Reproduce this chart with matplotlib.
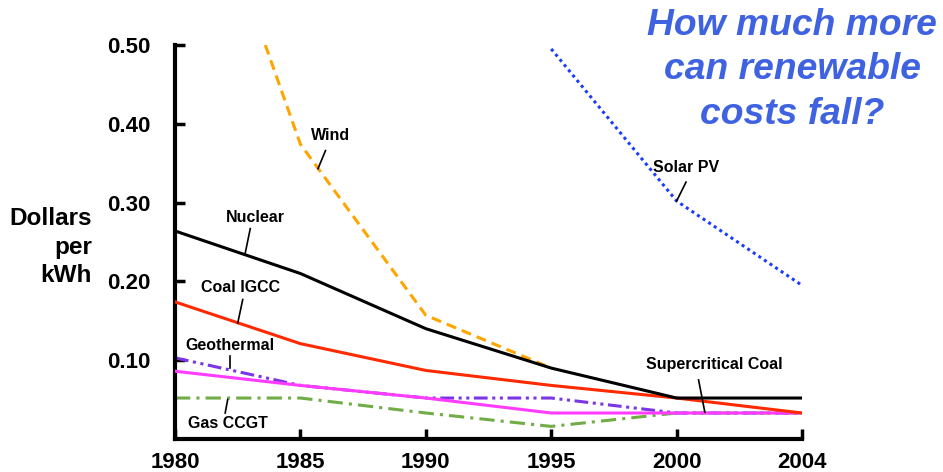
import numpy as np
import matplotlib
matplotlib.use("Agg")
import matplotlib.pyplot as plt

plt.rcParams['font.family'] = ['Liberation Sans', 'DejaVu Sans']

# category axis: 2004 sits one step after 2000 just like the others
years = [1980, 1985, 1990, 1995, 2000, 2004]
tick_labels = ['1980', '1985', '1990', '1995', '2000', '2004']

nuclear = [0.264, 0.210, 0.140, 0.090, 0.052, 0.052]
coal_igcc = [0.174, 0.121, 0.087, 0.068, 0.052, 0.033]
geothermal = [0.103, 0.068, 0.052, 0.052, 0.033, 0.033]
supercrit = [0.086, 0.068, 0.052, 0.033, 0.033, 0.033]
gas_ccgt = [0.052, 0.052, 0.033, 0.016, 0.033, 0.033]
wind_years = [1983.6, 1985, 1990, 1995]
wind = [0.50, 0.374, 0.157, 0.090]
solar_years = [1995, 2000, 2004]
solar = [0.495, 0.302, 0.195]

pos = np.arange(len(years), dtype=float)


def fwd(x):
    return np.interp(x, years, pos, left=-1e9, right=1e9)


def inv(x):
    return np.interp(x, pos, years)


fig = plt.figure(figsize=(9.43, 4.72), dpi=100)
ax = fig.add_axes([0.1856, 0.0699, 0.6649, 0.8348])
ax.set_xscale('function', functions=(fwd, inv))

lw = 2.2
ax.plot(years, gas_ccgt, color='#70ad47', lw=lw, ls=(0, (5, 2, 1, 2)), zorder=2)
ax.plot(years, geothermal, color='#7b35e6', lw=lw, ls=(0, (4.5, 1.5, 1, 1.5, 1, 1.5)), zorder=2)
ax.plot(years, supercrit, color='#ff3cff', lw=lw, zorder=3)
ax.plot(years, coal_igcc, color='#ff2a00', lw=lw, zorder=3)
ax.plot(wind_years, wind, color='#ffa500', lw=lw, ls=(0, (3.3, 2)), zorder=2)
ax.plot(years, nuclear, color='black', lw=lw, zorder=4)
ax.plot(solar_years, solar, color='#1a3cff', lw=lw, ls=(0, (1, 1.2)), zorder=2)

ax.set_xlim(1980, 2004)
ax.set_ylim(0, 0.5)
ax.set_xticks(years)
ax.set_xticklabels(tick_labels)
ax.set_yticks([0.1, 0.2, 0.3, 0.4, 0.5])
ax.set_yticklabels(['0.10', '0.20', '0.30', '0.40', '0.50'])
ax.minorticks_off()

for s in ['top', 'right']:
    ax.spines[s].set_visible(False)
for s in ['left', 'bottom']:
    ax.spines[s].set_linewidth(3)
ax.tick_params(axis='both', direction='in', length=7, width=2.5, labelsize=16)
ax.tick_params(axis='y', pad=18)
ax.tick_params(axis='x', pad=9)
for t in ax.get_xticklabels() + ax.get_yticklabels():
    t.set_fontweight('bold')

fig.text(0.0975, 0.476, 'Dollars\nper\nkWh', ha='right', va='center',
         fontsize=17.5, fontweight='bold', linespacing=1.3)

fig.text(0.84, 0.852, 'How much more\ncan renewable\ncosts fall?', ha='center', va='center',
         fontsize=26.8, fontweight='bold', style='italic', color='#3f63e0', linespacing=1.35)

# series labels with little leader lines
labels = [
    ('Wind', (1986.2, 0.385), (1986.0, 0.366), (1985.7, 0.343)),
    ('Nuclear', (1983.2, 0.281), (1983.0, 0.267), (1982.8, 0.236)),
    ('Coal IGCC', (1982.6, 0.192), (1982.7, 0.177), (1982.5, 0.147)),
    ('Geothermal', (1982.2, 0.119), (1982.2, 0.105), (1982.2, 0.090)),
    ('Gas CCGT', (1982.1, 0.020), (1982.1, 0.050), (1982.0, 0.033)),
    ('Solar PV', (2000.3, 0.345), (2000.3, 0.326), (2000.0, 0.302)),
    ('Supercritical Coal', (2001.2, 0.095), (2000.7, 0.075), (2000.9, 0.034)),
]
for name, txt, p1, p2 in labels:
    ax.text(txt[0], txt[1], name, ha='center', va='center', fontsize=11.5,
            fontweight='bold', zorder=6)
    ax.plot([p1[0], p2[0]], [p1[1], p2[1]], color='black', lw=1.2, zorder=6)

fig.savefig('out.png', dpi=100)
